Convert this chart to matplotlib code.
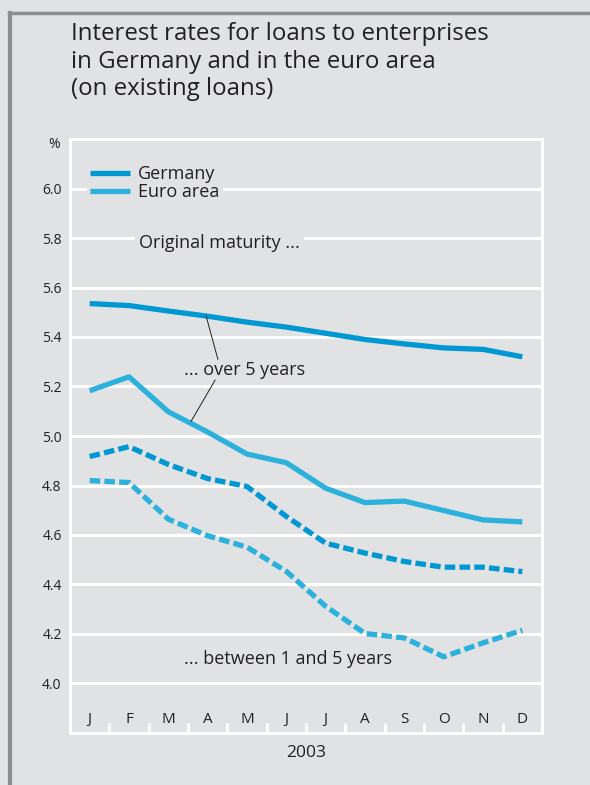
import matplotlib
matplotlib.use("Agg")
import matplotlib.pyplot as plt
from matplotlib.lines import Line2D
from matplotlib.ticker import FixedLocator

plt.rcParams["font.family"] = ["Open Sans", "DejaVu Sans"]

# Monthly interest rates 2003, % p.a.
months = ["J", "F", "M", "A", "M", "J", "J", "A", "S", "O", "N", "D"]
de_over5 = [5.535, 5.527, 5.505, 5.484, 5.46, 5.44, 5.415, 5.39, 5.372, 5.356, 5.35, 5.32]
ea_over5 = [5.183, 5.239, 5.098, 5.016, 4.927, 4.892, 4.789, 4.731, 4.737, 4.699, 4.661, 4.653]
de_1to5 = [4.917, 4.957, 4.885, 4.828, 4.796, 4.675, 4.567, 4.527, 4.493, 4.470, 4.470, 4.452]
ea_1to5 = [4.820, 4.812, 4.664, 4.597, 4.551, 4.453, 4.312, 4.202, 4.184, 4.108, 4.164, 4.215]
yticks = [4.0, 4.2, 4.4, 4.6, 4.8, 5.0, 5.2, 5.4, 5.6, 5.8, 6.0]

BG = "#e1e2e3"
DE_COL = "#0098d2"
EA_COL = "#2bb1dc"
TXT = "#231f20"
DASH = (0, (2.0, 0.8))

fig = plt.figure(figsize=(5.9, 7.85), dpi=100, facecolor=BG)
ax = fig.add_axes([70 / 590, 52 / 785, 472 / 590, 594 / 785], facecolor=BG)

x = list(range(len(months)))
ax.plot(x, de_over5, color=DE_COL, lw=3.8, solid_capstyle="butt", label="Germany", zorder=3)
ax.plot(x, ea_over5, color=EA_COL, lw=3.8, solid_capstyle="butt", label="Euro area", zorder=3)
ax.plot(x, de_1to5, color=DE_COL, lw=3.8, ls=DASH, dash_capstyle="butt", zorder=3)
ax.plot(x, ea_1to5, color=EA_COL, lw=3.8, ls=DASH, dash_capstyle="butt", zorder=3)

ax.set_xlim(-0.5, len(months) - 0.5)
ax.set_ylim(3.8, 6.2)

# white grid and frame
for v in yticks:
    ax.axhline(v, color="white", lw=2.2, zorder=1)
for s in ax.spines.values():
    s.set_color("white")
    s.set_linewidth(2.2)

ax.set_yticks(yticks)
ax.set_yticklabels([f"{v:.1f}" for v in yticks], fontsize=10, color=TXT)
ax.tick_params(axis="y", length=0, pad=6)

ax.set_xticks(x)
ax.set_xticklabels(months, fontsize=11, color=TXT)
ax.tick_params(axis="x", which="major", length=0, pad=-15)
ax.xaxis.set_minor_locator(FixedLocator([i + 0.5 for i in x[:-1]]))
ax.tick_params(axis="x", which="minor", direction="in", length=7, width=2, color="white")

ax.text(-0.034, 0.99, "%", transform=ax.transAxes, fontsize=10, color=TXT,
        ha="center", va="center")

leg = ax.legend(loc="upper left", bbox_to_anchor=(0.035, 0.962), fontsize=13,
                handlelength=2.2, handletextpad=0.45, labelspacing=0.0,
                frameon=True, facecolor=BG, edgecolor=BG, framealpha=1,
                borderpad=0.2, borderaxespad=0)
for t in leg.get_texts():
    t.set_color(TXT)
leg.get_frame().set_linewidth(0)

ax.text(1.254, 5.78, "Original maturity ...", fontsize=13, color=TXT, va="center", ha="left",
        bbox=dict(facecolor=BG, edgecolor="none", pad=3), zorder=2)

ax.text(2.40, 5.266, "... over 5 years", fontsize=13, color=TXT, ha="left", va="center", zorder=4)
ax.plot([2.96, 3.26], [5.485, 5.31], color=TXT, lw=0.7, zorder=4)
ax.plot([3.19, 2.58], [5.226, 5.06], color=TXT, lw=0.7, zorder=4)
ax.text(2.40, 4.097, "... between 1 and 5 years", fontsize=13, color=TXT, ha="left", va="center", zorder=4)

fig.text(306 / 590, 1 - 753 / 785, "2003", fontsize=12.5, color=TXT, ha="center", va="center")

fig.text(71 / 590, 1 - 22 / 785,
         "Interest rates for loans to enterprises\nin Germany and in the euro area\n(on existing loans)",
         fontsize=17.3, color=TXT, ha="left", va="top", linespacing=1.2)

# outer panel border
fig.add_artist(Line2D([9 / 590, 1], [1 - 13 / 785, 1 - 13 / 785], transform=fig.transFigure,
                      color="#8c8d8f", lw=2.5))
fig.add_artist(Line2D([10 / 590, 10 / 590], [0, 1 - 13 / 785], transform=fig.transFigure,
                      color="#8c8d8f", lw=3))

fig.savefig("out.png", dpi=100, facecolor=BG)
